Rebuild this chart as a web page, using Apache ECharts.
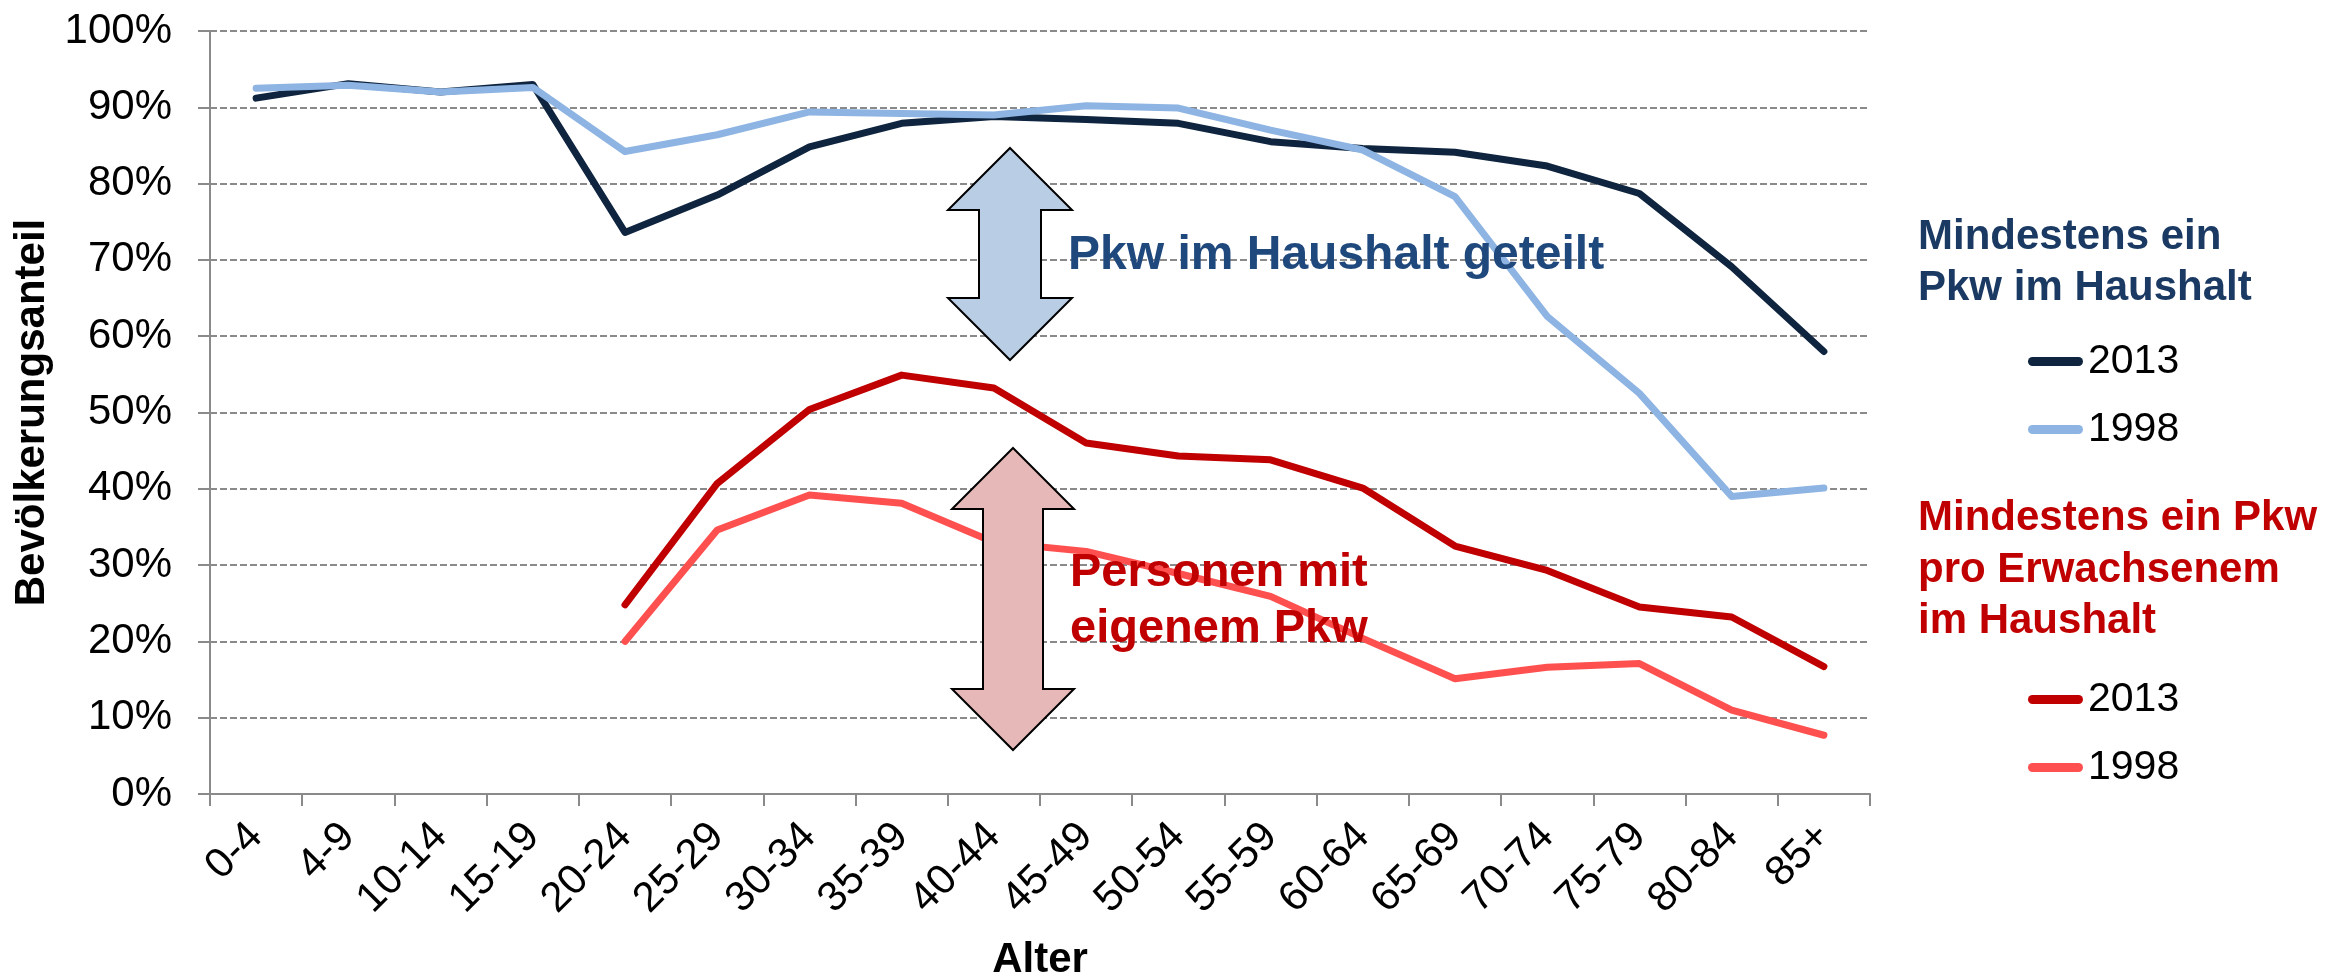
<!DOCTYPE html>
<html>
<head>
<meta charset="utf-8">
<title>Pkw-Verfügbarkeit nach Alter</title>
<script src="https://cdn.jsdelivr.net/npm/echarts@6/dist/echarts.min.js"></script>
<style>
  html, body { margin: 0; padding: 0; background: #fff; }
  #chart { width: 2327px; height: 978px; }
</style>
</head>
<body>
<div id="chart"></div>
<script>
// Altersgruppen
const ageGroups = ['0-4', '4-9', '10-14', '15-19', '20-24', '25-29', '30-34', '35-39', '40-44',
  '45-49', '50-54', '55-59', '60-64', '65-69', '70-74', '75-79', '80-84', '85+']

// Mindestens ein Pkw im Haushalt (%)
const haushalt2013 = [91.2, 93.1, 92.0, 93.0, 73.6, 78.5, 84.8, 87.9, 88.8, 88.4, 87.9, 85.5, 84.6, 84.1, 82.3, 78.7, 69.1, 58.0]
const haushalt1998 = [92.5, 92.9, 92.0, 92.6, 84.2, 86.4, 89.4, 89.2, 89.0, 90.2, 89.9, 87.0, 84.4, 78.3, 62.6, 52.5, 39.0, 40.1]

// Mindestens ein Pkw pro Erwachsenem im Haushalt (%)
const erwachsene2013 = [null, null, null, null, 24.8, 40.7, 50.4, 54.9, 53.2, 46.0, 44.3, 43.8, 40.1, 32.5, 29.3, 24.5, 23.2, 16.7]
const erwachsene1998 = [null, null, null, null, 20.0, 34.6, 39.2, 38.1, 33.0, 31.8, 28.9, 25.9, 20.4, 15.1, 16.6, 17.1, 11.0, 7.7]

const yTicks = { min: 0, max: 100, interval: 10 }

const FONT = "'Liberation Sans', Arial, sans-serif"
const GRID_COLOR = '#8a8a8a'
const legendIcon = 'path://M4.5,0 L50.5,0 A4.5,4.5 0 0 1 50.5,9 L4.5,9 A4.5,4.5 0 0 1 4.5,0 Z'

const chart = echarts.init(document.getElementById('chart'), null, { renderer: 'canvas' })

// Doppelpfeil als Polygon (cx = Mitte, y0 = obere Spitze, y1 = untere Spitze)
const doubleArrow = (cx, y0, y1, headH, headW, shaftW, fill) => ({
  type: 'polygon',
  z: 100,
  shape: {
    points: [
      [cx, y0],
      [cx + headW, y0 + headH],
      [cx + shaftW, y0 + headH],
      [cx + shaftW, y1 - headH],
      [cx + headW, y1 - headH],
      [cx, y1],
      [cx - headW, y1 - headH],
      [cx - shaftW, y1 - headH],
      [cx - shaftW, y0 + headH],
      [cx - headW, y0 + headH]
    ]
  },
  style: { fill: fill, stroke: '#000', lineWidth: 2 }
})

const lineSeries = (name, data, color) => ({
  name: name,
  type: 'line',
  data: data,
  symbol: 'none',
  connectNulls: false,
  lineStyle: { color: color, width: 7, cap: 'round', join: 'round' },
  itemStyle: { color: color },
  emphasis: { disabled: true },
  animation: false
})

const legendText = { fontFamily: FONT, fontSize: 41, lineHeight: 41, color: '#000' }

const option = {
  backgroundColor: '#fff',
  animation: false,
  textStyle: { fontFamily: FONT },
  grid: { left: 210, right: 457, top: 31, bottom: 184, containLabel: false, outerBoundsMode: 'none' },
  xAxis: {
    type: 'category',
    data: ageGroups,
    boundaryGap: true,
    name: 'Alter',
    nameLocation: 'middle',
    nameGap: 145,
    nameTextStyle: { fontFamily: FONT, fontSize: 42, fontWeight: 'bold', color: '#000' },
    axisLine: { lineStyle: { color: GRID_COLOR, width: 2 } },
    axisTick: { show: true, length: 12, alignWithLabel: false, lineStyle: { color: GRID_COLOR, width: 2 } },
    axisLabel: { interval: 0, rotate: 45, margin: 36, fontFamily: FONT, fontSize: 42, color: '#000' }
  },
  yAxis: {
    type: 'value',
    min: yTicks.min,
    max: yTicks.max,
    interval: yTicks.interval,
    name: 'Bevölkerungsanteil',
    nameLocation: 'middle',
    nameGap: 150,
    nameRotate: 90,
    nameTextStyle: { fontFamily: FONT, fontSize: 42, fontWeight: 'bold', color: '#000' },
    axisLine: { show: true, lineStyle: { color: GRID_COLOR, width: 2 } },
    axisTick: { show: true, length: 12, lineStyle: { color: GRID_COLOR, width: 2 } },
    axisLabel: { formatter: '{value}%', margin: 38, fontFamily: FONT, fontSize: 42, color: '#000' },
    splitLine: { show: true, lineStyle: { color: GRID_COLOR, width: 2, type: [7, 3] } }
  },
  legend: [
    {
      data: ['Haushalt 2013', 'Haushalt 1998'],
      orient: 'vertical',
      left: 2023,
      top: 336,
      itemWidth: 55,
      itemHeight: 9,
      itemGap: 27,
      icon: legendIcon,
      selectedMode: false,
      formatter: name => name.split(' ')[1],
      textStyle: legendText
    },
    {
      data: ['Erwachsene 2013', 'Erwachsene 1998'],
      orient: 'vertical',
      left: 2023,
      top: 674,
      itemWidth: 55,
      itemHeight: 9,
      itemGap: 27,
      icon: legendIcon,
      selectedMode: false,
      formatter: name => name.split(' ')[1],
      textStyle: legendText
    }
  ],
  series: [
    lineSeries('Haushalt 2013', haushalt2013, '#0F243E'),
    lineSeries('Haushalt 1998', haushalt1998, '#8DB4E2'),
    lineSeries('Erwachsene 2013', erwachsene2013, '#C00000'),
    lineSeries('Erwachsene 1998', erwachsene1998, '#FF5050')
  ],
  graphic: [
    // Legenden-Überschriften
    {
      type: 'text',
      left: 1918,
      top: 212,
      z: 100,
      style: {
        text: 'Mindestens ein\nPkw im Haushalt',
        font: `bold 42px ${FONT}`,
        lineHeight: 51,
        fill: '#1B3A63'
      }
    },
    {
      type: 'text',
      left: 1918,
      top: 493,
      z: 100,
      style: {
        text: 'Mindestens ein Pkw\npro Erwachsenem\nim Haushalt',
        font: `bold 42px ${FONT}`,
        lineHeight: 51.5,
        fill: '#C00000'
      }
    },
    // Pfeile
    doubleArrow(1010, 148, 360, 62, 62, 31, '#B9CDE5'),
    doubleArrow(1013, 448, 750, 61, 61, 30, '#E6B9B8'),
    // Beschriftungen an den Pfeilen
    {
      type: 'text',
      left: 1068,
      top: 228,
      z: 100,
      style: {
        text: 'Pkw im Haushalt geteilt',
        font: `bold 48px ${FONT}`,
        lineHeight: 56,
        fill: '#1F497D'
      }
    },
    {
      type: 'text',
      left: 1070,
      top: 545,
      z: 100,
      style: {
        text: 'Personen mit\neigenem Pkw',
        font: `bold 47px ${FONT}`,
        lineHeight: 56,
        fill: '#C00000'
      }
    }
  ]
}

chart.setOption(option)

window.addEventListener('resize', () => chart.resize())
</script>
</body>
</html>
